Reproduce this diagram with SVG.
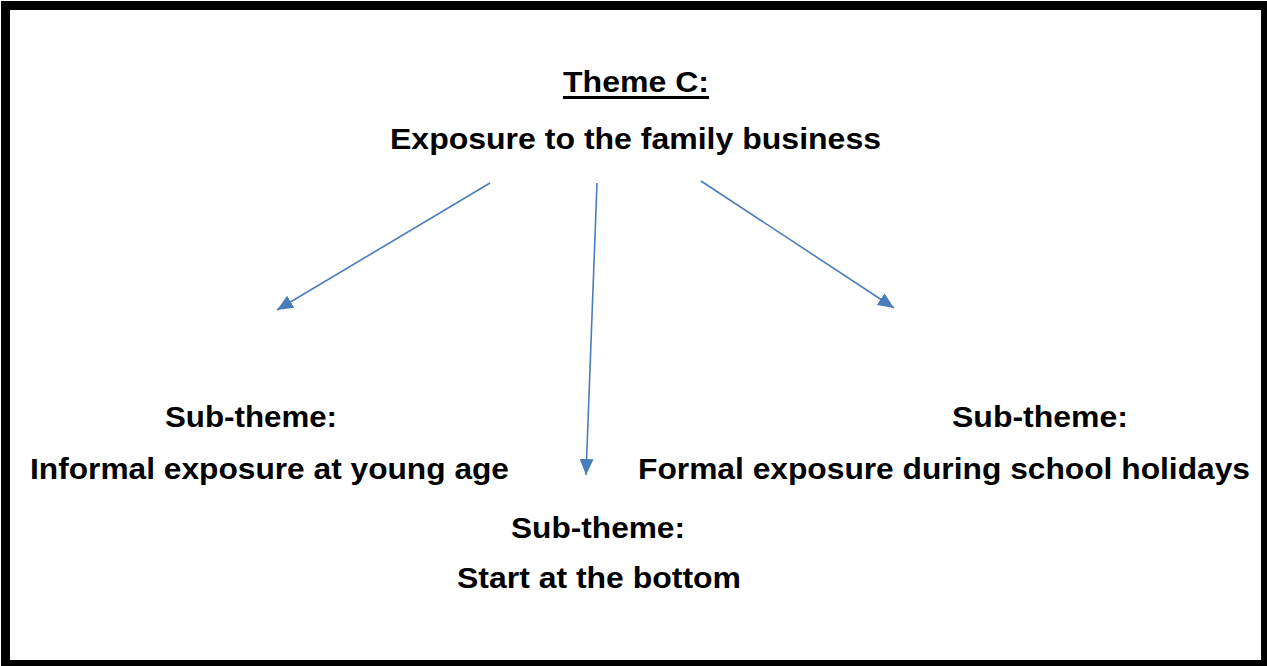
<svg xmlns="http://www.w3.org/2000/svg" width="1267" height="666" viewBox="0 0 1267 666">
  <style>
    .t { font-family: "Liberation Sans", Arial, sans-serif; font-weight: bold; font-size: 29px; fill: #000; }
    .conn { stroke: #4a7ebb; stroke-width: 1.6; fill: none; }
  </style>
  <defs>
    <marker id="arrow" markerUnits="userSpaceOnUse" markerWidth="18" markerHeight="16" refX="16" refY="7" orient="auto">
      <path d="M0,0 L16,7 L0,14 z" fill="#4a7ebb"/>
    </marker>
  </defs>

  <!-- frame -->
  <rect x="1" y="1" width="1266" height="665" fill="#000"/>
  <rect x="10" y="10" width="1251" height="650" fill="#fff"/>

  <g id="theme">
    <text class="t" x="563" y="92" textLength="146" lengthAdjust="spacingAndGlyphs">Theme C:</text>
    <rect x="563" y="96" width="146" height="3" fill="#000"/>
    <text class="t" x="390" y="149" textLength="491" lengthAdjust="spacingAndGlyphs">Exposure to the family business</text>
  </g>

  <g id="sub-informal">
    <text class="t" x="165" y="427" textLength="172" lengthAdjust="spacingAndGlyphs">Sub-theme:</text>
    <text class="t" x="30" y="479" textLength="479" lengthAdjust="spacingAndGlyphs">Informal exposure at young age</text>
  </g>

  <g id="sub-bottom">
    <text class="t" x="511" y="538" textLength="174" lengthAdjust="spacingAndGlyphs">Sub-theme:</text>
    <text class="t" x="457" y="588" textLength="284" lengthAdjust="spacingAndGlyphs">Start at the bottom</text>
  </g>

  <g id="sub-formal">
    <text class="t" x="952" y="427" textLength="176" lengthAdjust="spacingAndGlyphs">Sub-theme:</text>
    <text class="t" x="638" y="479" textLength="612" lengthAdjust="spacingAndGlyphs">Formal exposure during school holidays</text>
  </g>

  <g id="connectors">
    <line class="conn" x1="490" y1="183" x2="277" y2="310" marker-end="url(#arrow)"/>
    <line class="conn" x1="597" y1="183" x2="586" y2="475" marker-end="url(#arrow)"/>
    <line class="conn" x1="701" y1="181" x2="894" y2="308" marker-end="url(#arrow)"/>
  </g>
</svg>
